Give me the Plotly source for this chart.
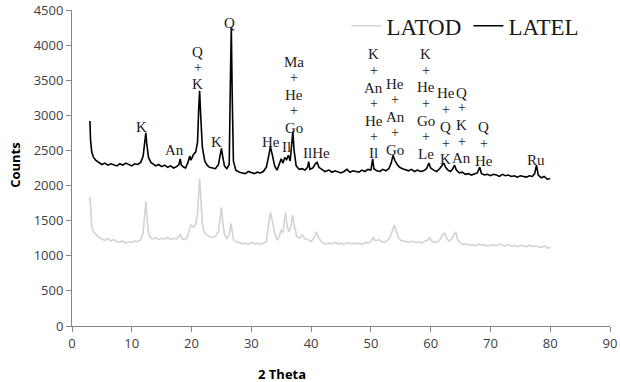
import plotly.graph_objects as go

# ---------------- data ----------------
latel_x = [3.0, 3.1, 3.3, 3.6, 4.0, 4.5, 5.0, 5.5, 6.0, 6.5, 7.0, 7.5, 8.0, 8.5, 9.0, 9.5, 10.0, 10.5, 11.0, 11.5,
           11.9, 12.2, 12.35, 12.5, 12.8, 13.2, 13.6, 14.0, 14.5, 15.0, 15.5, 16.0, 16.5, 17.0, 17.5, 17.9, 18.1, 18.3,
           18.7, 19.0, 19.4, 19.7, 19.9, 20.3, 20.7, 21.0, 21.2, 21.35, 21.5, 21.8, 22.2, 22.6, 23.0, 23.5, 24.0, 24.5,
           24.8, 25.0, 25.2, 25.5, 25.9, 26.3, 26.5, 26.65, 26.8, 27.0, 27.4, 28.0, 28.5, 29.0, 29.5, 30.0, 30.5, 31.0,
           31.5, 32.0, 32.5, 32.9, 33.2, 33.5, 33.9, 34.3, 34.7, 35.0, 35.3, 35.6, 35.9, 36.2, 36.5, 36.8, 36.95, 37.15,
           37.5, 38.0, 38.5, 39.0, 39.4, 39.6, 39.8, 40.3, 40.7, 41.0, 41.3, 41.8, 42.3, 43.0, 43.5, 44.0, 44.5, 45.0,
           45.5, 46.0, 46.5, 47.0, 47.5, 48.0, 48.5, 49.0, 49.5, 50.0, 50.3, 50.5, 51.0, 51.5, 52.0, 52.5, 53.0, 53.4,
           53.7, 54.0, 54.4, 54.8, 55.3, 55.8, 56.3, 56.8, 57.3, 57.8, 58.3, 58.8, 59.3, 59.7, 60.0, 60.5, 61.0, 61.5,
           62.0, 62.2, 62.5, 62.9, 63.3, 63.7, 64.0, 64.3, 64.8, 65.3, 65.8, 66.3, 66.8, 67.3, 67.8, 68.2, 68.5, 69.0,
           69.5, 70.0, 70.5, 71.0, 71.5, 72.0, 72.5, 73.0, 73.5, 74.0, 74.5, 75.0, 75.5, 76.0, 76.5, 77.0, 77.4, 77.7,
           78.0, 78.5, 79.0, 79.5, 80.0]
latel_y = [2920, 2650, 2480, 2400, 2360, 2330, 2300, 2320, 2290, 2310, 2300, 2280, 2310, 2290, 2320, 2300, 2280, 2310, 2300, 2330,
           2420, 2640, 2750, 2600, 2400, 2330, 2300, 2280, 2300, 2270, 2290, 2260, 2280, 2250, 2270, 2300, 2380, 2290,
           2260, 2250, 2330, 2420, 2360, 2440, 2480, 2620, 3100, 3350, 3050, 2550, 2350, 2290, 2260, 2250, 2240, 2300,
           2450, 2530, 2420, 2280, 2240, 2300, 3500, 4260, 3300, 2350, 2220, 2190, 2180, 2170, 2200, 2180, 2170, 2190,
           2180, 2200, 2260, 2420, 2550, 2440, 2280, 2220, 2300, 2380, 2320, 2400, 2370, 2430, 2350, 2600, 2770, 2500,
           2280, 2230, 2240, 2220, 2260, 2340, 2230, 2250, 2310, 2330, 2260, 2230, 2200, 2220, 2190, 2210, 2200, 2180,
           2200, 2230, 2190, 2210, 2200, 2190, 2220, 2200, 2230, 2220, 2380, 2240, 2210, 2200, 2230, 2210, 2240, 2320,
           2430, 2360, 2300, 2260, 2240, 2220, 2210, 2230, 2200, 2220, 2200, 2210, 2240, 2320, 2250, 2220, 2200, 2240,
           2300, 2320, 2260, 2220, 2200, 2240, 2290, 2220, 2180, 2190, 2160, 2170, 2150, 2170, 2180, 2260, 2170, 2150,
           2160, 2140, 2160, 2150, 2130, 2160, 2140, 2150, 2130, 2140, 2120, 2140, 2130, 2120, 2140, 2130, 2170, 2290,
           2150, 2110, 2130, 2090, 2100]

latod_x = [3.0, 3.1, 3.3, 3.6, 4.0, 4.5, 5.0, 5.5, 6.0, 6.5, 7.0, 7.5, 8.0, 8.5, 9.0, 9.5, 10.0, 10.5, 11.0, 11.5,
           11.9, 12.2, 12.35, 12.5, 12.8, 13.2, 13.6, 14.0, 14.5, 15.0, 15.5, 16.0, 16.5, 17.0, 17.5, 17.9, 18.1, 18.4,
           18.8, 19.2, 19.6, 19.9, 20.3, 20.7, 21.0, 21.2, 21.35, 21.5, 21.8, 22.2, 22.6, 23.0, 23.5, 24.0, 24.5, 24.8,
           25.0, 25.2, 25.5, 25.9, 26.3, 26.6, 26.8, 27.0, 27.4, 28.0, 28.5, 29.0, 29.5, 30.0, 30.5, 31.0, 31.5, 32.0,
           32.5, 32.9, 33.2, 33.5, 33.9, 34.3, 34.7, 35.0, 35.3, 35.7, 36.0, 36.3, 36.6, 36.9, 37.2, 37.6, 38.0, 38.5,
           39.0, 39.5, 40.0, 40.5, 40.9, 41.2, 41.7, 42.3, 43.0, 43.5, 44.0, 44.5, 45.0, 45.5, 46.0, 46.5, 47.0, 47.5,
           48.0, 48.5, 49.0, 49.5, 50.0, 50.4, 50.8, 51.3, 51.8, 52.3, 52.8, 53.3, 53.7, 53.95, 54.2, 54.6, 55.0, 55.5,
           56.0, 56.5, 57.0, 57.5, 58.0, 58.5, 59.0, 59.5, 59.8, 60.2, 60.7, 61.2, 61.7, 62.1, 62.4, 62.7, 63.1, 63.5,
           63.9, 64.2, 64.5, 65.0, 65.5, 66.0, 66.5, 67.0, 67.5, 68.0, 68.5, 69.0, 69.5, 70.0, 70.5, 71.0, 71.5, 72.0,
           72.5, 73.0, 73.5, 74.0, 74.5, 75.0, 75.5, 76.0, 76.5, 77.0, 77.5, 78.0, 78.5, 79.0, 79.5, 80.0]
latod_y = [1840, 1600, 1420, 1340, 1300, 1260, 1240, 1220, 1250, 1210, 1230, 1200, 1190, 1210, 1180, 1200, 1190, 1210, 1200, 1230,
           1330, 1650, 1780, 1600, 1320, 1250, 1240, 1260, 1230, 1250, 1240, 1260, 1230, 1250, 1240, 1280, 1300, 1240,
           1230, 1250, 1380, 1440, 1410, 1450, 1600, 1950, 2100, 1900, 1450, 1320, 1290, 1270, 1260, 1280, 1350, 1600,
           1690, 1500, 1300, 1250, 1300, 1460, 1300, 1230, 1200, 1190, 1170, 1180, 1160, 1190, 1170, 1180, 1160, 1180,
           1200, 1450, 1620, 1500, 1330, 1220, 1280, 1370, 1330, 1620, 1420, 1340, 1420, 1580, 1420, 1280, 1250, 1300,
           1240, 1230, 1200, 1260, 1340, 1270, 1200, 1170, 1180, 1170, 1190, 1170, 1180, 1160, 1190, 1170, 1180, 1170,
           1180, 1160, 1190, 1180, 1200, 1260, 1210, 1230, 1200, 1190, 1220, 1280, 1380, 1440, 1360, 1260, 1220, 1210,
           1200, 1190, 1210, 1190, 1200, 1180, 1210, 1220, 1260, 1210, 1190, 1200, 1250, 1310, 1320, 1240, 1210, 1240,
           1300, 1340, 1230, 1180, 1160, 1170, 1150, 1160, 1140, 1170, 1150, 1160, 1140, 1150, 1160, 1140, 1170, 1150,
           1140, 1160, 1140, 1150, 1130, 1150, 1140, 1130, 1150, 1130, 1140, 1130, 1120, 1140, 1110, 1120]

# phase labels: (text, 2theta position, count level)
phase_labels = [
    ("K", 11.67, 2830), ("An", 17.17, 2504),
    ("Q", 21.02, 3901), ("+", 21.02, 3687), ("K", 21.02, 3445),
    ("K", 24.2, 2618), ("Q", 26.37, 4314),
    ("He", 33.23, 2618), ("Il", 35.9, 2547),
    ("Ma", 37.07, 3758), ("+", 37.07, 3545), ("He", 37.07, 3288), ("+", 37.07, 3075), ("Go", 37.07, 2818),
    ("IlHe", 40.9, 2462),
    ("K", 50.45, 3873), ("+", 50.45, 3645), ("An", 50.45, 3388), ("+", 50.45, 3174), ("He", 50.45, 2918),
    ("+", 50.45, 2704), ("Il", 50.45, 2462),
    ("He", 54.1, 3445), ("+", 54.1, 3231), ("An", 54.1, 2975), ("+", 54.1, 2761), ("Go", 54.1, 2504),
    ("K", 59.15, 3873), ("+", 59.15, 3645), ("He", 59.15, 3402), ("+", 59.15, 3174), ("Go", 59.15, 2918),
    ("+", 59.15, 2704), ("Le", 59.15, 2447),
    ("He", 62.5, 3317), ("+", 62.5, 3089), ("Q", 62.5, 2832), ("+", 62.5, 2604), ("K", 62.5, 2376),
    ("Q", 65.17, 3317), ("+", 65.17, 3117), ("K", 65.17, 2861), ("+", 65.17, 2632), ("An", 65.17, 2390),
    ("Q", 68.85, 2832), ("+", 68.85, 2604), ("He", 68.85, 2347),
    ("Ru", 77.7, 2362),
]

x_ticks = [0, 10, 20, 30, 40, 50, 60, 70, 80, 90]
y_ticks = [0, 500, 1000, 1500, 2000, 2500, 3000, 3500, 4000, 4500]

# ---------------- figure ----------------
fig = go.Figure()
fig.add_trace(go.Scatter(x=latod_x, y=latod_y, mode="lines", name="LATOD",
                         line=dict(color="#d3d3d3", width=1.6)))
fig.add_trace(go.Scatter(x=latel_x, y=latel_y, mode="lines", name="LATEL",
                         line=dict(color="#000000", width=1.6)))

serif = "Liberation Serif, Times New Roman, serif"
sans = "Open Sans, Liberation Sans, sans-serif"

annotations = []
for t, xv, yv in phase_labels:
    annotations.append(dict(x=xv, y=yv, xref="x", yref="y", text=t, showarrow=False,
                            font=dict(family=serif, size=15 if t != "+" else 14, color="#222222"),
                            xanchor="center", yanchor="middle"))
annotations.append(dict(x=-0.106, y=0.51, xref="paper", yref="paper", text="<b>Counts</b>",
                        textangle=-90, showarrow=False, font=dict(family=sans, size=13, color="#000"),
                        xanchor="center", yanchor="middle"))
annotations.append(dict(x=0.39, y=-0.152, xref="paper", yref="paper", text="<b>2 Theta</b>",
                        showarrow=False, font=dict(family=sans, size=13, color="#000"),
                        xanchor="center", yanchor="middle"))

fig.update_layout(
    width=620, height=382,
    margin=dict(l=72, r=10, t=10, b=56, autoexpand=False),
    paper_bgcolor="white", plot_bgcolor="white",
    showlegend=True,
    legend=dict(orientation="h", x=0.51, y=0.95, xanchor="left", yanchor="middle",
                font=dict(family=serif, size=23, color="#1a1a1a"),
                bgcolor="rgba(0,0,0,0)", itemwidth=30, tracegroupgap=0,
                entrywidth=77, entrywidthmode="pixels"),
    annotations=annotations,
    xaxis=dict(range=[0, 90], tickvals=x_ticks, showgrid=False, zeroline=False,
               showline=True, linecolor="#868686", linewidth=1,
               ticks="outside", ticklen=5, tickcolor="#868686", ticklabeloverflow="allow",
               tickfont=dict(family=sans, size=13, color="#404040")),
    yaxis=dict(range=[0, 4500], tickvals=y_ticks, showgrid=False, zeroline=False,
               showline=True, linecolor="#868686", linewidth=1,
               ticks="outside", ticklen=5, tickcolor="#868686", ticklabeloverflow="allow",
               tickfont=dict(family=sans, size=13, color="#404040")),
)

# remove the page's default body margin so the 620x382 figure fills the window exactly
fig.write_html("out.html", config={"displayModeBar": False},
               post_script="document.body.style.margin='0px';")
